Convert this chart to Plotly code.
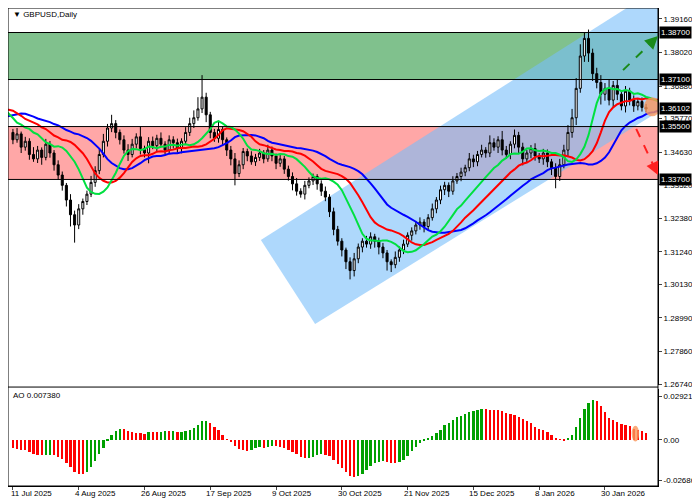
import plotly.graph_objects as go
import numpy as np

pre_close = [1.3540,1.3520,1.3490,1.3460,1.3500,1.3530,1.3560,1.3540,1.3580,1.3560,1.3520,1.3550,1.3580,1.3600,1.3640,1.3620,1.3650,1.3640,1.3610,1.3630,1.3660,1.3640,1.3600,1.3570,1.3580,1.3600,1.3620,1.3650,1.3610,1.3580,1.3540,1.3520,1.3500,1.3530]
close = [1.3505,1.3525,1.3480,1.3500,1.3455,1.3440,1.3470,1.3445,1.3490,1.3460,
1.3420,1.3385,1.3350,1.3300,1.3250,1.3215,1.3270,1.3295,1.3320,1.3360,
1.3400,1.3455,1.3500,1.3545,1.3560,1.3530,1.3505,1.3470,1.3455,1.3490,
1.3515,1.3475,1.3460,1.3500,1.3485,1.3510,1.3490,1.3470,1.3505,1.3495,
1.3475,1.3500,1.3530,1.3560,1.3580,1.3610,1.3650,1.3590,1.3530,1.3510,
1.3540,1.3505,1.3470,1.3440,1.3390,1.3420,1.3465,1.3450,1.3430,1.3445,
1.3460,1.3440,1.3470,1.3450,1.3425,1.3440,1.3405,1.3380,1.3355,1.3330,
1.3320,1.3350,1.3365,1.3380,1.3355,1.3330,1.3310,1.3260,1.3200,1.3160,
1.3130,1.3090,1.3060,1.3100,1.3140,1.3160,1.3150,1.3175,1.3160,1.3140,
1.3120,1.3090,1.3080,1.3105,1.3130,1.3150,1.3180,1.3195,1.3215,1.3225,
1.3210,1.3240,1.3270,1.3300,1.3335,1.3350,1.3330,1.3365,1.3380,1.3395,
1.3410,1.3440,1.3430,1.3455,1.3470,1.3460,1.3495,1.3480,1.3505,1.3470,
1.3455,1.3490,1.3520,1.3480,1.3440,1.3460,1.3475,1.3450,1.3440,1.3460,
1.3430,1.3410,1.3380,1.3420,1.3470,1.3530,1.3580,1.3680,1.3790,1.3850,
1.3800,1.3730,1.3700,1.3660,1.3680,1.3640,1.3690,1.3660,1.3620,1.3670,
1.3640,1.3620,1.3635,1.3615,1.36102]
upper_pips = [12,20,8,15,10,25,14,9,18,11,10,15,12,8,20,14,16,10,12,22,
15,18,25,14,30,12,10,15,20,18,12,35,10,14,16,12,20,10,15,12,
14,10,18,20,25,40,75,15,10,12,30,10,8,14,20,15,12,10,16,12,
14,10,18,12,8,15,10,12,14,20,10,15,12,10,8,12,16,10,14,12,
10,8,15,20,12,10,18,15,10,12,14,10,8,20,12,15,10,12,14,16,
10,12,18,10,14,12,10,16,12,15,10,20,14,12,18,10,25,15,12,30,
14,10,20,12,15,10,12,18,10,14,12,10,15,20,18,25,30,35,40,20,
30,15,20,25,18,30,15,20,14,18,12,16,10,14,12]
lower_pips = [15,10,20,12,18,10,14,25,10,16,20,15,18,22,40,60,14,20,12,10,
15,12,10,18,14,20,16,12,22,10,14,20,15,35,12,18,10,15,12,20,
14,16,10,12,15,10,14,25,20,12,15,18,20,22,40,12,15,18,10,14,
12,15,10,18,20,12,16,14,22,15,12,18,10,14,20,16,14,18,20,15,
22,25,30,20,15,18,12,16,22,25,18,30,25,12,15,14,10,18,12,16,
20,12,10,15,14,18,20,12,10,16,14,12,18,15,10,16,14,12,20,18,
15,16,14,20,22,12,18,16,14,20,18,25,40,15,12,20,18,25,15,20,
30,25,20,35,22,18,25,20,15,22,18,20,15,14,12]
date_labels = ["11 Jul 2025","4 Aug 2025","26 Aug 2025","17 Sep 2025","9 Oct 2025",
               "30 Oct 2025","21 Nov 2025","15 Dec 2025","8 Jan 2026","30 Jan 2026"]
date_pos = [0,16,32,48,64,80,96,112,128,144]
price_ticks = [1.39160,1.38020,1.36880,1.35770,1.34630,1.33520,1.32380,1.31240,1.30130,1.28990,1.27860,1.26740]
levels = [1.38700,1.37100,1.35500,1.33700]
current_price = 1.36102
ao_ticks = [0.029215,0.0,-0.026862]
ao_tick_text = ["0.029215","0.00","-0.026862"]
ao_label = "AO 0.007380"
channel_x = [60.3,73.5,171.7,158.6]
channel_y = [1.3164,1.2878,1.3728,1.4036]
up_arrow = ([148.4,156.9],[1.3742,1.3858])
down_arrow = ([151.6,156.9],[1.3542,1.3385])

FONT = "Liberation Sans"
n = len(close)
idx = np.arange(n)
all_close = np.array(pre_close + close)
npre = len(pre_close)
opens = all_close[npre-1:-1]
c = np.array(close)
high = np.maximum(opens, c) + np.array(upper_pips) * 1e-4
low = np.minimum(opens, c) - np.array(lower_pips) * 1e-4

def smma(src, p):
    out = np.full(len(src), np.nan)
    out[p-1] = src[:p].mean()
    for i in range(p, len(src)):
        out[i] = (out[i-1]*(p-1) + src[i]) / p
    return out

def sma(src, p):
    out = np.full(len(src), np.nan)
    for i in range(p-1, len(src)):
        out[i] = src[i-p+1:i+1].mean()
    return out

allidx = np.arange(len(all_close)) - npre
ao = sma(all_close, 5) - sma(all_close, 34)
ao_shown = ao[npre:]
ao_prev = ao[npre-1:-1]
ao_cols = ["#00a000" if a >= b else "#ff0000" for a, b in zip(ao_shown, ao_prev)]

fig = go.Figure()
X0, X1 = -1.2, 156.9
Y0, Y1 = 1.26706, 1.39534

fig.add_shape(type="rect", x0=X0, x1=X1+5, y0=levels[1], y1=levels[0], fillcolor="rgba(60,160,80,0.65)", line_width=0, layer="below", xref="x", yref="y")
fig.add_shape(type="rect", x0=X0, x1=X1+5, y0=levels[3], y1=levels[2], fillcolor="rgba(255,120,120,0.65)", line_width=0, layer="below", xref="x", yref="y")
path = "M " + " L ".join(f"{a},{b}" for a, b in zip(channel_x, channel_y)) + " Z"
fig.add_shape(type="path", path=path, fillcolor="rgba(120,190,250,0.6)", line_width=0, layer="below", xref="x", yref="y")
for lv in levels:
    fig.add_shape(type="line", x0=X0, x1=X1, y0=lv, y1=lv, line=dict(color="black", width=1), xref="x", yref="y")

fig.add_trace(go.Candlestick(x=idx, open=opens, high=high, low=low, close=c,
    increasing=dict(line=dict(color="black", width=1), fillcolor="white"),
    decreasing=dict(line=dict(color="black", width=1), fillcolor="black"),
    whiskerwidth=0, showlegend=False, xaxis="x", yaxis="y"))

for p, sh, col in [(13, 8, "#0000ff"), (8, 5, "#ff0000"), (5, 3, "#00e040")]:
    m = smma(all_close, p)
    fig.add_trace(go.Scatter(x=allidx + sh, y=m, mode="lines", line=dict(color=col, width=2),
                             showlegend=False, hoverinfo="skip", xaxis="x", yaxis="y"))

fig.add_trace(go.Bar(x=idx, y=ao_shown, marker_color=ao_cols, marker_line_width=0, width=0.55,
                     showlegend=False, xaxis="x2", yaxis="y2"))

for (ax_, ay_), col in [(up_arrow, "#1a8a1a"), (down_arrow, "#ff2020")]:
    fig.add_shape(type="line", x0=ax_[0], x1=ax_[1], y0=ay_[0], y1=ay_[1], xref="x", yref="y",
                  line=dict(color=col, width=2, dash="dash"))
    fig.add_annotation(x=ax_[1], y=ay_[1], ax=ax_[1] - (ax_[1]-ax_[0])*0.2, ay=ay_[1] - (ay_[1]-ay_[0])*0.2,
                       xref="x", yref="y", axref="x", ayref="y", showarrow=True, arrowhead=2,
                       arrowsize=1.3, arrowwidth=2, arrowcolor=col, text="")
fig.add_shape(type="circle", x0=153.5, x1=157.5, y0=1.3585, y1=1.3650, fillcolor="rgba(250,150,90,0.8)", line_width=0, xref="x", yref="y")
fig.add_shape(type="circle", x0=150.5, x1=152.3, y0=-0.001, y1=0.0095, fillcolor="rgba(250,150,90,0.8)", line_width=0, xref="x2", yref="y2")

for lv in levels + [current_price]:
    fig.add_annotation(x=1.0, y=lv, xref="paper", yref="y", xanchor="left", text=f"{lv:.5f}",
                       showarrow=False, bgcolor="black", font=dict(color="white", size=8, family=FONT),
                       borderpad=1, xshift=1)
for pos, lab in zip(date_pos, date_labels):
    fig.add_annotation(x=pos, y=0, xref="x2", yref="paper", xanchor="left", yanchor="top", yshift=-1,
                       xshift=-6 if pos else -4, text=lab, showarrow=False,
                       font=dict(size=8, family=FONT, color="black"))
fig.add_annotation(x=0.005, y=1.0, xref="paper", yref="paper", xanchor="left", yanchor="top",
                   text="▼ GBPUSD,Daily", showarrow=False, font=dict(size=8, family=FONT, color="black"))
fig.add_annotation(x=0.005, y=0.203, xref="paper", yref="paper", xanchor="left", yanchor="top",
                   text=ao_label, showarrow=False, font=dict(size=8, family=FONT, color="black"))
fig.add_shape(type="line", x0=0, x1=1, y0=0.207, y1=0.207, xref="paper", yref="paper", line=dict(color="black", width=1))
fig.add_shape(type="rect", x0=0, x1=1, y0=0, y1=1, xref="paper", yref="paper", line=dict(color="black", width=1))

fig.update_layout(
    width=700, height=500, margin=dict(l=0, r=50, t=0, b=22),
    paper_bgcolor="white", plot_bgcolor="white", bargap=0,
    font=dict(family=FONT, size=8, color="black"),
    xaxis=dict(domain=[0, 1], range=[X0, X1], showticklabels=False, showgrid=False, zeroline=False,
               rangeslider=dict(visible=False), anchor="y"),
    yaxis=dict(domain=[0.2113, 1], range=[Y0, Y1], side="right", tickvals=price_ticks,
               ticktext=[f"{v:.5f}" for v in price_ticks], showgrid=False, zeroline=False,
               ticks="outside", ticklen=3, showline=True, linecolor="black", anchor="x"),
    xaxis2=dict(domain=[0, 1], range=[X0, X1], tickvals=date_pos, showticklabels=False,
                showgrid=False, zeroline=False, ticks="outside", ticklen=3, anchor="y2",
                showline=True, linecolor="black"),
    yaxis2=dict(domain=[0, 0.203], range=[-0.0307, 0.0340], side="right", tickvals=ao_ticks, ticktext=ao_tick_text,
                showgrid=False, zeroline=False, ticks="outside", ticklen=3, showline=True, linecolor="black", anchor="x2"),
)
fig.write_html("out.html")
